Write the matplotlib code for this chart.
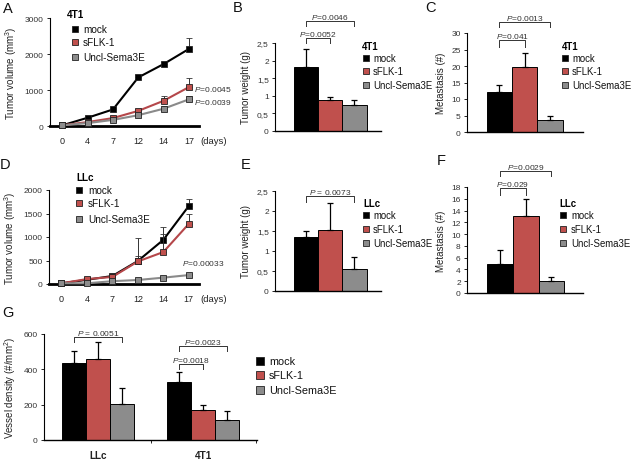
import numpy as np
import matplotlib
matplotlib.use('Agg')
import matplotlib.pyplot as plt
from matplotlib.lines import Line2D

plt.rcParams['font.family'] = ['Liberation Sans', 'DejaVu Sans']
plt.rcParams['mathtext.fontset'] = 'custom'
plt.rcParams['mathtext.rm'] = 'Liberation Sans'
plt.rcParams['mathtext.it'] = 'Liberation Sans:italic'
plt.rcParams['mathtext.bf'] = 'Liberation Sans:bold'

# ---------------- data ----------------
groups = ['mock', 'sFLK-1', 'Uncl-Sema3E']
days = ['0', '4', '7', '12', '14', '17']

# A: 4T1 tumor volume
a_mock = [20, 230, 460, 1350, 1720, 2140]
a_mock_err = [0, 40, 50, 60, 50, 300]
a_sflk = [20, 110, 220, 420, 700, 1080]
a_sflk_err = [0, 20, 30, 50, 130, 250]
a_uncl = [20, 80, 170, 300, 480, 740]
a_uncl_err = [0, 15, 25, 40, 70, 100]

# D: LLc tumor volume
d_mock = [15, 90, 170, 490, 940, 1660]
d_mock_err = [0, 20, 30, 490, 280, 140]
d_sflk = [15, 105, 150, 480, 680, 1280]
d_sflk_err = [0, 20, 20, 120, 380, 210]
d_uncl = [15, 15, 60, 85, 135, 190]
d_uncl_err = [0, 5, 10, 10, 20, 25]

# B: 4T1 tumor weight
b_vals = [1.83, 0.88, 0.75]
b_err = [0.49, 0.08, 0.12]
# C: 4T1 metastasis
c_vals = [12.1, 19.6, 3.7]
c_err = [2.2, 4.3, 1.1]
# E: LLc tumor weight
e_vals = [1.36, 1.53, 0.54]
e_err = [0.14, 0.67, 0.30]
# F: LLc metastasis
f_vals = [5.0, 13.0, 2.1]
f_err = [2.3, 2.9, 0.6]
# G: vessel density
g_models = ['LLc', '4T1']
g_vals = {'LLc': [435, 460, 205], '4T1': [330, 170, 115]}
g_err = {'LLc': [70, 95, 90], '4T1': [55, 28, 50]}

colors = ['#000000', '#c0504d', '#8c8c8c']
line_colors = ['#000000', '#b5474a', '#8a8a8a']

W, H = 633, 460
fig = plt.figure(figsize=(W / 100, H / 100), dpi=100)
fig.patch.set_facecolor('white')


def px_axes(x0, y0, x1, y1):
    return fig.add_axes([x0 / W, 1 - y1 / H, (x1 - x0) / W, (y1 - y0) / H])


def ftext(x, y, s, **kw):
    fig.text(x / W, 1 - y / H, s, **kw)


def style(ax, ylabel):
    for s in ['top', 'right']:
        ax.spines[s].set_visible(False)
    ax.spines['left'].set_linewidth(0.8)
    ax.spines['bottom'].set_linewidth(1.0)
    ax.tick_params(axis='y', labelsize=6, labelcolor='#333', length=2.5, width=0.6, pad=2)
    ax.set_ylabel(ylabel, fontsize=7, color='#222', labelpad=4)


def legend_px(title, xt, yt, xs, xtx, ys, fs=6.9, ms=5):
    if title:
        ftext(xt, yt, title, fontsize=fs, weight='bold', va='center', ha='left')
    for y, lab, col in zip(ys, groups, colors):
        fig.add_artist(Line2D([xs / W], [1 - y / H], marker='s', ms=ms, mfc=col,
                              mec='#222', mew=0.6, ls='none', transform=fig.transFigure))
        ftext(xtx, y, lab, fontsize=fs, va='center', ha='left', color='#111')


def bracket(ax, x0, x1, yd, yt, label):
    ax.plot([x0, x0, x1, x1], [yd, yt, yt, yd], color='#333', lw=0.7, clip_on=False)
    ax.text((x0 + x1) / 2, yt, label, ha='center', va='bottom', fontsize=6, color='#333')


def line_panel(ax, series, errs, ylim, yticks, ylabel):
    x = np.arange(len(days))
    order = [2, 0, 1]
    for i in order:
        ax.errorbar(x, series[i], yerr=[np.zeros(len(errs[i])), errs[i]], color=line_colors[i],
                    lw=1.5, marker='s', ms=4.6, mfc=colors[i], mec='#222', mew=0.6,
                    ecolor='#333', elinewidth=0.7, capsize=2, capthick=0.7, clip_on=False, zorder=3 + i)
    ax.set_xlim(-0.49, 5.4)
    ax.set_ylim(*ylim)
    ax.set_yticks(yticks)
    ax.set_xticks(x)
    ax.set_xticklabels(days)
    style(ax, ylabel)
    ax.spines['bottom'].set_linewidth(2.0)
    ax.tick_params(axis='x', length=0, labelsize=6.5, labelcolor='#222', pad=7)


def bar_panel(ax, vals, errs, ylim, yticks, yticklabels, xlim, ylabel):
    x = np.arange(len(vals))
    ax.bar(x, vals, width=1.0, color=colors, edgecolor='black', lw=0.7, zorder=2)
    ax.errorbar(x, vals, yerr=[np.zeros(len(errs)), errs], fmt='none', ecolor='black',
                elinewidth=0.9, capsize=2.5, capthick=0.9, zorder=3, clip_on=False)
    ax.set_xlim(*xlim)
    ax.set_ylim(*ylim)
    ax.set_yticks(yticks)
    ax.set_yticklabels(yticklabels)
    ax.set_xticks([])
    style(ax, ylabel)


# ---------------- A ----------------
axA = px_axes(50, 19, 199, 127)
line_panel(axA, [a_mock, a_sflk, a_uncl], [a_mock_err, a_sflk_err, a_uncl_err],
           (0, 3000), [0, 1000, 2000, 3000], 'Tumor volume (mm$^3$)')
axA.text(5.2, 1055, '$\\it{P}$=0.0045', fontsize=6, color='#333', va='center', ha='left')
axA.text(5.2, 667, '$\\it{P}$=0.0039', fontsize=6, color='#333', va='center', ha='left')
ftext(200, 141, '(days)', fontsize=6.8, color='#222', va='center')
legend_px('4T1', 67, 15, 75, 83, [30, 43, 58], fs=7.2)

# ---------------- D ----------------
axD = px_axes(49, 191, 199, 285)
line_panel(axD, [d_mock, d_sflk, d_uncl], [d_mock_err, d_sflk_err, d_uncl_err],
           (0, 2000), [0, 500, 1000, 1500, 2000], 'Tumor volume (mm$^3$)')
axD.text(4.75, 468, '$\\it{P}$=0.00033', fontsize=6, color='#333', va='center', ha='left')
ftext(200, 299, '(days)', fontsize=6.8, color='#222', va='center')
legend_px('LLc', 76, 178, 79, 88, [191, 204, 220], fs=7.2)

w_ticks = [0, 0.5, 1, 1.5, 2, 2.5]
w_labels = ['0', '0,5', '1', '1,5', '2', '2,5']

# ---------------- B ----------------
axB = px_axes(275, 44, 381, 132)
bar_panel(axB, b_vals, b_err, (0, 2.5), w_ticks, w_labels, (-1.29, 3.1), 'Tumor weight (g)')
bracket(axB, 0, 1, 2.5, 2.64, '$\\it{P}$=0.0052')
bracket(axB, 0, 2, 2.98, 3.125, '$\\it{P}$=0.0046')
legend_px('4T1', 362, 47, 366, 373, [59, 72, 86])

# ---------------- C ----------------
axC = px_axes(467, 34, 583, 133)
bar_panel(axC, c_vals, c_err, (0, 30), [0, 5, 10, 15, 20, 25, 30],
          ['0', '5', '10', '15', '20', '25', '30'], (-1.28, 3.3), 'Metastasis (#)')
bracket(axC, 0, 1, 25.8, 27.9, '$\\it{P}$=0.041')
bracket(axC, 0, 2, 31.8, 33.3, '$\\it{P}$=0.0013')
legend_px('4T1', 562, 47, 565, 572, [59, 72, 86])

# ---------------- E ----------------
axE = px_axes(275, 192, 381, 292)
bar_panel(axE, e_vals, e_err, (0, 2.5), w_ticks, w_labels, (-1.29, 3.1), 'Tumor weight (g)')
bracket(axE, 0, 2, 2.225, 2.375, '$\\it{P}$ = 0.0073')
legend_px('LLc', 363, 204, 366, 373, [216, 230, 244])

# ---------------- F ----------------
axF = px_axes(467, 188, 583, 294)
bar_panel(axF, f_vals, f_err, (0, 18), list(range(0, 19, 2)),
          [str(v) for v in range(0, 19, 2)], (-1.28, 3.23), 'Metastasis (#)')
bracket(axF, 0, 1, 16.6, 17.8, '$\\it{P}$=0.029')
bracket(axF, 0, 2, 19.9, 20.7, '$\\it{P}$=0.0029')
legend_px('LLc', 559, 204, 563, 571, [216, 230, 244])

# ---------------- G ----------------
axG = px_axes(44, 335, 257, 441)
bw = 0.226
offs = [-bw, 0, bw]
gx = np.arange(len(g_models))
for j, grp in enumerate(groups):
    vals = [g_vals[m][j] for m in g_models]
    errs = [g_err[m][j] for m in g_models]
    axG.bar(gx + offs[j], vals, width=bw, color=colors[j], edgecolor='black', lw=0.7, zorder=2)
    axG.errorbar(gx + offs[j], vals, yerr=[np.zeros(len(errs)), errs], fmt='none', ecolor='black',
                 elinewidth=0.9, capsize=2.5, capthick=0.9, zorder=3)
axG.set_xlim(-0.51, 1.51)
axG.set_ylim(0, 600)
axG.set_yticks([0, 200, 400, 600])
axG.set_xticks(gx)
axG.set_xticklabels(g_models, fontsize=7.2, weight='bold', color='#222')
axG.set_xticks([0.5, 1.5], minor=True)
axG.tick_params(axis='x', which='major', length=0, pad=7)
axG.tick_params(axis='x', which='minor', length=2.5, width=0.6)
style(axG, 'Vessel density (#/mm$^2$)')
bracket(axG, 0 - bw, 0 + bw, 555, 583, '$\\it{P}$ = 0.0051')
bracket(axG, 1 - bw, 1, 402, 430, '$\\it{P}$=0.0018')
bracket(axG, 1 - bw, 1 + bw, 504, 532, '$\\it{P}$=0.0023')
legend_px(None, 0, 0, 260, 269, [362, 376, 391], fs=7.8, ms=5.5)

# ---------------- panel labels ----------------
for lab, (x, y) in zip('ABCDEFG', [(8, 9), (238, 8), (431, 8), (5, 165), (246, 165), (441, 161), (8, 313)]):
    ftext(x, y, lab, fontsize=10.5, ha='center', va='center', color='#111')

fig.savefig('out.png', dpi=100, facecolor='white')
